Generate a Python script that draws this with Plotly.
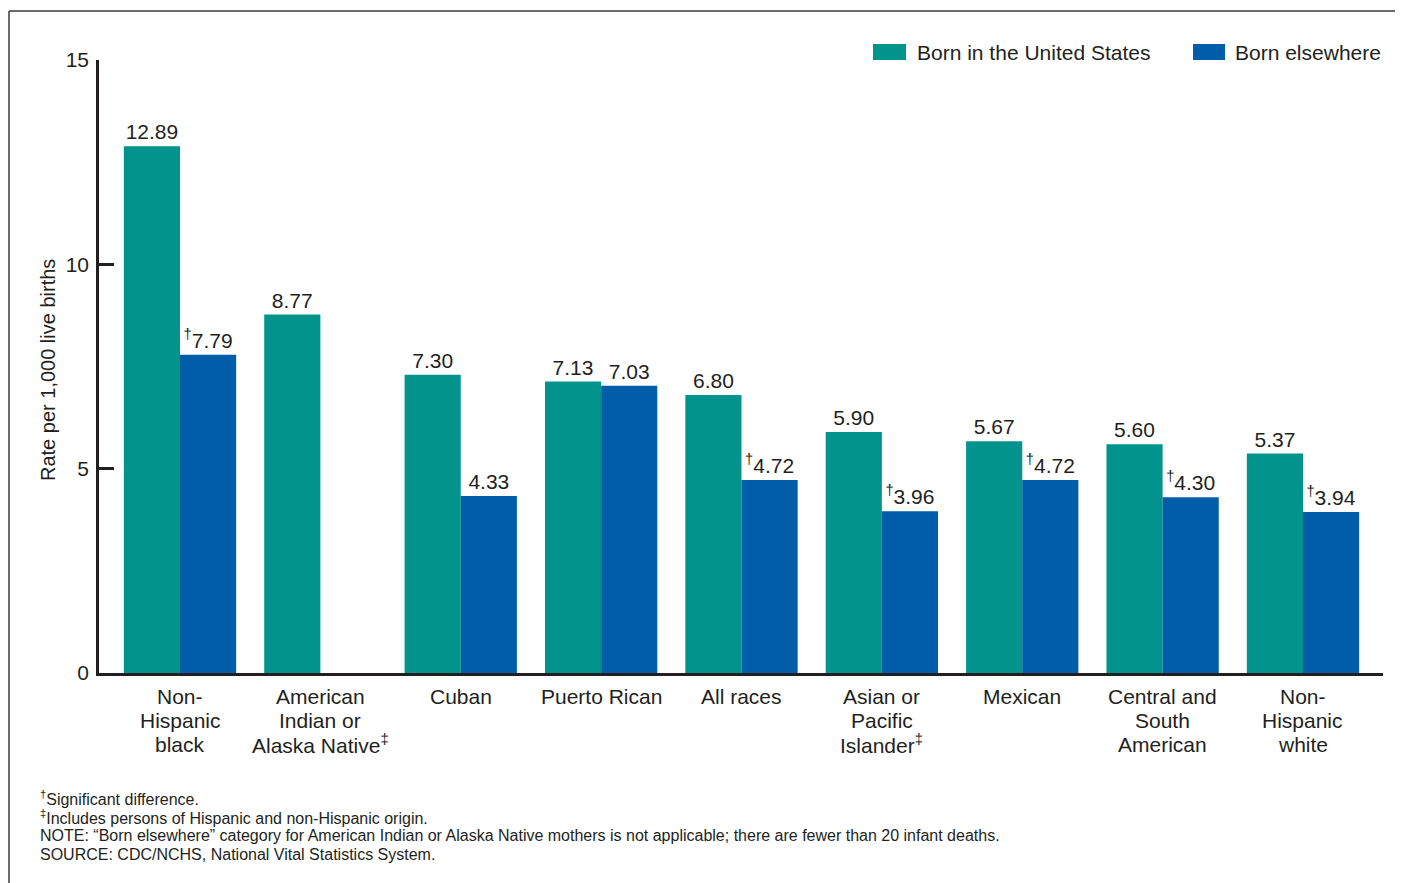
import plotly.graph_objects as go

categories = [
    "Non-<br>Hispanic<br>black",
    "American<br>Indian or<br>Alaska Native<sup>‡</sup>",
    "Cuban",
    "Puerto Rican",
    "All races",
    "Asian or<br>Pacific<br>Islander<sup>‡</sup>",
    "Mexican",
    "Central and<br>South<br>American",
    "Non-<br>Hispanic<br>white",
]
born_us = [12.89, 8.77, 7.30, 7.13, 6.80, 5.90, 5.67, 5.60, 5.37]
born_elsewhere = [7.79, None, 4.33, 7.03, 4.72, 3.96, 4.72, 4.30, 3.94]
significant = [True, False, False, False, True, True, True, True, True]
y_ticks = [0, 5, 10, 15]

TEAL = "#02938C"
BLUE = "#005DAA"
INK = "#231F20"
FONT = "Liberation Sans, Arial, sans-serif"

OFF = 8  # page body margin
W, H = 1403 - OFF, 883 - OFF
SX0, SX1, SY0, SY1 = 99, 1383, 60, 673
L, T = SX0 - OFF, SY0 - OFF
R = W - (SX1 - OFF)
B = H - (SY1 - OFF)
PW, PH = SX1 - SX0, SY1 - SY0


def px(x):
    return (x - SX0) / PW


def py(y):
    return (SY1 - y) / PH


xs = list(range(len(categories)))
us_text = [f"{v:.2f}" for v in born_us]
el_text = [
    ("" if v is None else (("<sup>†</sup>" if s else "") + f"{v:.2f}"))
    for v, s in zip(born_elsewhere, significant)
]

fig = go.Figure()
fig.add_trace(go.Bar(
    x=xs, y=born_us, name="Born in the United States", marker_color=TEAL,
    marker_line_width=0, text=us_text, textposition="outside",
    textfont=dict(size=21, color=INK, family=FONT), cliponaxis=False,
))
fig.add_trace(go.Bar(
    x=xs, y=born_elsewhere, name="Born elsewhere", marker_color=BLUE,
    marker_line_width=0, text=el_text, textposition="outside",
    textfont=dict(size=21, color=INK, family=FONT), cliponaxis=False,
))

shapes = [
    dict(type="line", xref="paper", yref="paper", x0=px(9), x1=px(1420), y0=py(11), y1=py(11),
         line=dict(color="#3a3a3a", width=1.5)),
    dict(type="line", xref="paper", yref="paper", x0=px(9), x1=px(9), y0=py(11), y1=py(900),
         line=dict(color="#3a3a3a", width=1.5)),
    dict(type="rect", xref="paper", yref="paper", x0=px(873), x1=px(906), y0=py(60), y1=py(44),
         fillcolor=TEAL, line_width=0),
    dict(type="rect", xref="paper", yref="paper", x0=px(1193), x1=px(1225), y0=py(60), y1=py(44),
         fillcolor=BLUE, line_width=0),
]

annotations = [
    dict(text="Born in the United States", xref="paper", yref="paper", x=px(915), y=py(53),
         xanchor="left", yanchor="middle", showarrow=False, font=dict(size=21, color=INK, family=FONT)),
    dict(text="Born elsewhere", xref="paper", yref="paper", x=px(1233), y=py(53),
         xanchor="left", yanchor="middle", showarrow=False, font=dict(size=21, color=INK, family=FONT)),
    dict(text="Rate per 1,000 live births", xref="paper", yref="paper", x=px(48), y=py(370),
         xanchor="center", yanchor="middle", textangle=-90, showarrow=False,
         font=dict(size=20, color=INK, family=FONT)),
]
for xi, label in zip(xs, categories):
    for j, part in enumerate(label.split("<br>")):
        annotations.append(dict(text=part, xref="x", yref="paper", x=xi, y=py(696 + 24 * j),
                                xanchor="center", yanchor="middle", showarrow=False,
                                font=dict(size=21, color=INK, family=FONT)))

foot = [
    "<sup>†</sup>Significant difference.",
    "<sup>‡</sup>Includes persons of Hispanic and non-Hispanic origin.",
    "NOTE: “Born elsewhere” category for American Indian or Alaska Native mothers is not applicable; there are fewer than 20 infant deaths.",
    "SOURCE: CDC/NCHS, National Vital Statistics System.",
]
for i, line in enumerate(foot):
    annotations.append(dict(text=line, xref="paper", yref="paper", x=px(38), y=py(798 + 18.7 * i),
                            xanchor="left", yanchor="middle", showarrow=False,
                            font=dict(size=16, color=INK, family=FONT)))

fig.update_layout(
    width=W, height=H,
    margin=dict(l=L, r=R, t=T, b=B, pad=0),
    paper_bgcolor="white", plot_bgcolor="white",
    barmode="group", bargap=0.2, bargroupgap=0,
    showlegend=False,
    font=dict(family=FONT, color=INK, size=20),
    shapes=shapes, annotations=annotations,
    xaxis=dict(
        range=[-0.577, 8.57], tickvals=xs, ticktext=[""] * len(xs),
        showline=True, linecolor=INK, linewidth=2.5, ticks="", showgrid=False, zeroline=False,
    ),
    yaxis=dict(
        range=[0, 15], tickvals=y_ticks, showline=True, linecolor=INK, linewidth=2.5,
        ticks="inside", ticklen=15, tickwidth=2.5, tickcolor=INK, showgrid=False, zeroline=False,
        tickfont=dict(size=21, color=INK, family=FONT), ticklabelstandoff=3,
    ),
)

fig.write_html("out.html")
